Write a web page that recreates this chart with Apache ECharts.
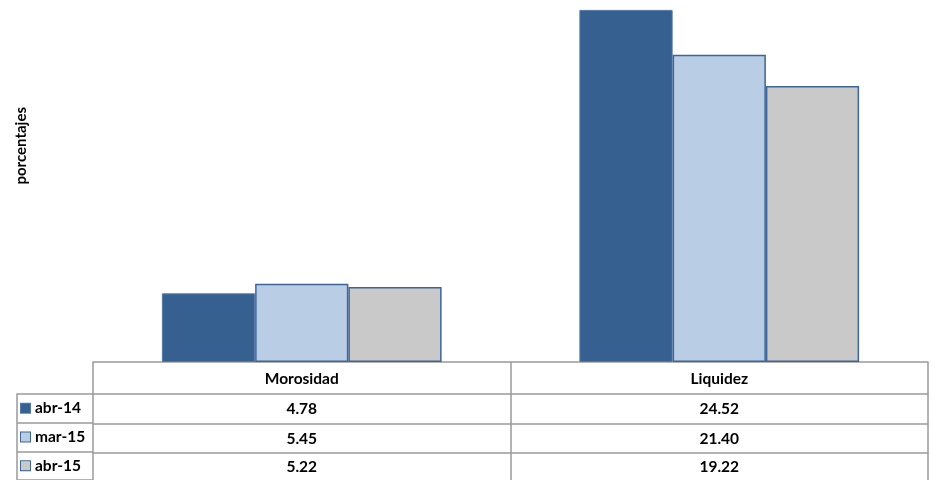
<!DOCTYPE html>
<html>
<head>
<meta charset="utf-8">
<script src="https://cdn.jsdelivr.net/npm/echarts@6/dist/echarts.min.js"></script>
<style>html,body{margin:0;padding:0;background:#fff}#c{width:932px;height:480px}</style>
</head>
<body>
<div id="c"></div>
<script>
const categories = ['Morosidad', 'Liquidez'];
const seriesNames = ['abr-14', 'mar-15', 'abr-15'];
const abr14 = [4.78, 24.52];
const mar15 = [5.45, 21.40];
const abr15 = [5.22, 19.22];
const yAxisName = 'porcentajes';

const values = [abr14, mar15, abr15];
const fills = ['#36608f', '#b9cde5', '#c9c9c9'];
const borders = ['#5479a6', '#3d6596', '#3d6596'];
const gridLine = '#9a9a9a';
const font = 'Lato, "Liberation Sans", sans-serif';
const fs = 15.5;

const chart = echarts.init(document.getElementById('c'), null, {renderer: 'canvas'});

const rowOffsets = [32, 61.5, 91];
const rowMargins = [7, 7, 6];

const xAxes = [{
  type: 'category', data: categories, gridIndex: 0,
  axisLine: {show: true, lineStyle: {color: gridLine, width: 1.5}},
  axisTick: {show: true, length: 118, lineStyle: {color: gridLine, width: 1.5}},
  axisLabel: {margin: 9, color: '#000', fontWeight: 'bold', fontSize: fs, fontFamily: font}
}];
values.forEach((arr, i) => {
  xAxes.push({
    type: 'category', data: categories, gridIndex: 0, position: 'bottom', offset: rowOffsets[i],
    axisLine: {show: true, lineStyle: {color: gridLine, width: 1.5}},
    axisTick: {show: false},
    axisLabel: {margin: rowMargins[i], color: '#000', fontWeight: 'bold', fontSize: fs, fontFamily: font,
      formatter: (v, idx) => arr[idx].toFixed(2)}
  });
});
xAxes.push({type: 'value', gridIndex: 1, show: false});

const rich = {t: {color: '#000', fontWeight: 'bold', fontSize: fs, fontFamily: font, padding: [0, 0, 0, 5]}};
seriesNames.forEach((n, i) => {
  rich['m' + i] = {width: 9, height: 9, backgroundColor: fills[i], borderColor: borders[i], borderWidth: 1};
});

chart.setOption({
  animation: false,
  grid: [
    {left: 93, right: 4, top: 3, bottom: 118},
    {left: 17, width: 76, top: 394, height: 88.5}
  ],
  xAxis: xAxes,
  yAxis: [
    {type: 'value', gridIndex: 0, min: 0, max: 25, axisLine: {show: false}, axisTick: {show: false},
     axisLabel: {show: false}, splitLine: {show: false}},
    {type: 'category', gridIndex: 1, data: seriesNames, inverse: true,
     axisLine: {show: true, lineStyle: {color: gridLine, width: 1.5}},
     axisTick: {show: false},
     splitLine: {show: true, lineStyle: {color: gridLine, width: 1.5}},
     axisLabel: {inside: true, margin: 4, align: 'left',
       formatter: (v, idx) => '{m' + idx + '|}{t|' + v + '}', rich: rich}}
  ],
  series: seriesNames.map((n, i) => ({
    name: n, type: 'bar', xAxisIndex: 0, yAxisIndex: 0,
    data: values[i], barGap: '0%', barCategoryGap: '33%',
    itemStyle: {color: fills[i], borderColor: borders[i], borderWidth: i === 0 ? 1 : 1.5}
  })),
  graphic: [{
    type: 'text', left: 14, top: 107, rotation: Math.PI / 2,
    style: {text: yAxisName, font: 'bold 15px ' + font, fill: '#000'}
  }]
});
</script>
</body>
</html>
